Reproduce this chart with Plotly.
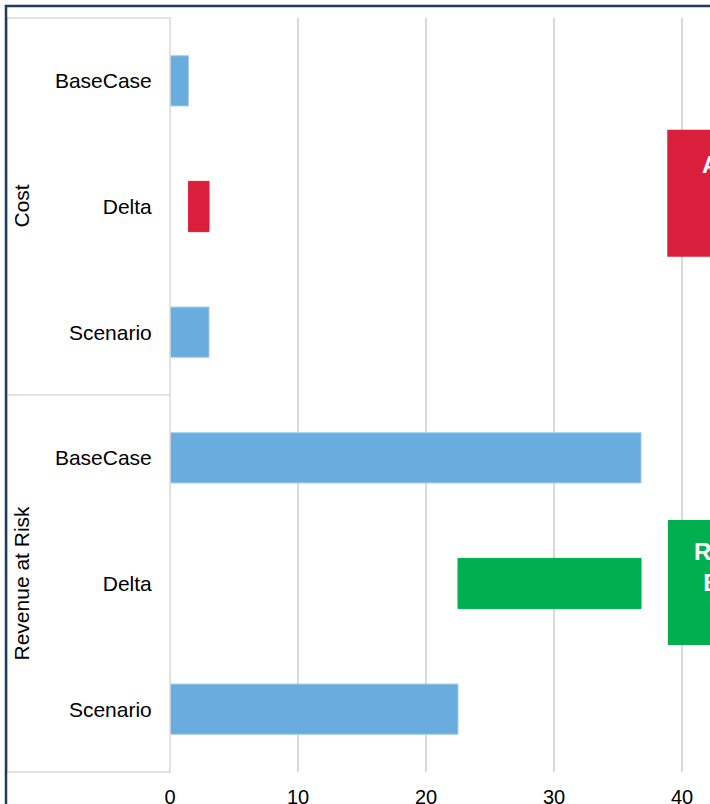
import plotly.graph_objects as go

# Waterfall-style comparison: BaseCase -> Delta -> Scenario for each measure
groups = ["Cost", "Revenue at Risk"]
steps = ["BaseCase", "Delta", "Scenario"]
base_case = [1.45, 36.8]
scenario = [3.05, 22.5]
x_ticks = [0, 10, 20, 30, 40]

BLUE = "#69addf"
BLUE_EDGE = "#a8cdee"
RED = "#da1f3d"
GREEN = "#00af50"
NAVY = "#1e3d5c"
GRID = "#d9d9d9"
FONT = "Liberation Sans, Arial, sans-serif"

rows, starts, lengths, fills, edges, labels = [], [], [], [], [], []
for g, (b, s) in enumerate(zip(base_case, scenario)):
    d = s - b
    r0 = 3 * g
    # base case bar
    rows.append(r0); starts.append(0); lengths.append(b)
    fills.append(BLUE); edges.append(BLUE_EDGE)
    # floating delta bar
    rows.append(r0 + 1); starts.append(min(b, s)); lengths.append(abs(d))
    c = RED if d > 0 else GREEN
    fills.append(c); edges.append(c)
    # scenario bar
    rows.append(r0 + 2); starts.append(0); lengths.append(s)
    fills.append(BLUE); edges.append(BLUE_EDGE)
    labels += steps

fig = go.Figure(
    go.Bar(
        orientation="h",
        y=rows,
        x=lengths,
        base=starts,
        width=0.4,
        marker=dict(color=fills, line=dict(color=edges, width=1)),
        hoverinfo="skip",
        showlegend=False,
    )
)

px_per_unit = 12.8
plot_w = 540
x_max = plot_w / px_per_unit

fig.update_layout(
    width=710,
    height=804,
    margin=dict(l=170, r=0, t=18, b=32, pad=0),
    paper_bgcolor="white",
    plot_bgcolor="white",
    font=dict(family=FONT, color="#000000", size=21),
    xaxis=dict(
        range=[0, x_max],
        tickvals=x_ticks,
        showgrid=True,
        gridcolor=GRID,
        gridwidth=2,
        zeroline=False,
        showline=False,
        ticks="outside",
        ticklen=7,
        tickcolor="rgba(0,0,0,0)",
        tickfont=dict(size=20),
        automargin=False,
        fixedrange=True,
    ),
    yaxis=dict(
        range=[5.5, -0.5],
        tickvals=list(range(len(labels))),
        ticktext=labels,
        showgrid=False,
        zeroline=False,
        showline=False,
        ticks="outside",
        ticklen=13,
        tickcolor="rgba(0,0,0,0)",
        tickfont=dict(size=21),
        automargin=False,
        fixedrange=True,
    ),
)

# label table on the left (outer frame, group divider, axis edge)
tbl_left = (7 - 170) / plot_w
shapes = [
    dict(type="rect", xref="paper", yref="paper", x0=tbl_left, x1=0, y0=0, y1=1,
         line=dict(color=GRID, width=1.5), layer="above"),
    dict(type="line", xref="paper", yref="y", x0=tbl_left, x1=0, y0=2.5, y1=2.5,
         line=dict(color=GRID, width=1.5), layer="above"),
]

# callout boxes beside the delta rows
callouts = [
    dict(text="Added<br>Cost", color=RED, x0=38.85, y0=0.39, y1=1.40,
         text_x=739, text_y=0.545),
    dict(text="Revenue<br>Benefit", color=GREEN, x0=38.9, y0=3.495, y1=4.49,
         text_x=744, text_y=3.62),
]
annotations = []
for c in callouts:
    shapes.append(dict(type="rect", xref="x", yref="y", x0=c["x0"], x1=55,
                       y0=c["y0"], y1=c["y1"], fillcolor=c["color"],
                       line=dict(width=0), layer="above"))
    annotations.append(dict(text="<b>" + c["text"] + "</b>", xref="paper", yref="y",
                            x=(c["text_x"] - 170) / plot_w, y=c["text_y"],
                            xanchor="center", yanchor="top", showarrow=False,
                            align="center",
                            font=dict(size=24, color="white", family=FONT)))

# group labels, rotated
for g, name in enumerate(groups):
    annotations.append(dict(text=name, xref="paper", yref="y",
                            x=(21 - 170) / plot_w, y=3 * g + 1,
                            xanchor="center", yanchor="middle", textangle=-90,
                            showarrow=False, font=dict(size=21, color="#000000")))

# dark outer frame running off the page edges
shapes.append(dict(type="rect", xref="paper", yref="paper",
                   x0=(6 - 170) / plot_w, x1=1.3,
                   y0=-0.2, y1=(772 - 6) / 754,
                   line=dict(color=NAVY, width=2.5), layer="above"))

fig.update_layout(shapes=shapes, annotations=annotations)

fig.write_html("out.html", config=dict(displayModeBar=False))
